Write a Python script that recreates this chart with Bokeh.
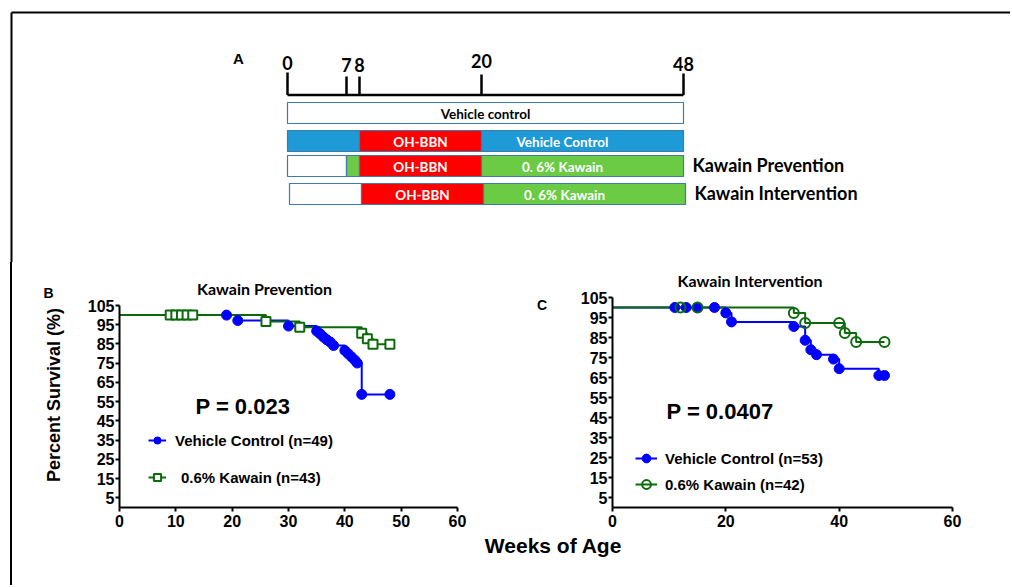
import numpy as np
from bokeh.plotting import figure
from bokeh.models import (Range1d, FixedTicker, Label, Legend, LegendItem, ColumnDataSource,
                          LinearAxis, Div)
from bokeh.layouts import column, row
from bokeh.embed import file_html
from bokeh.resources import INLINE
from bokeh.core.properties import value

# ---------------- data ----------------
# Panel A: treatment schedule (weeks of age)
timeline_weeks = [0, 7, 8, 20, 48]
seg_row = [0, 1, 1, 1, 2, 2, 2, 2, 3, 3, 3]
seg_start = [0, 0, 8, 20, 0, 7, 8, 20, 0, 8, 20]
seg_end = [48, 8, 20, 48, 7, 8, 20, 48, 8, 20, 48]
seg_kind = ["none", "vehicle", "bbn", "vehicle", "none", "kawain", "bbn", "kawain",
            "none", "bbn", "kawain"]
seg_text = ["Vehicle control", "", "OH-BBN", "Vehicle Control", "", "", "OH-BBN",
            "0. 6% Kawain", "", "OH-BBN", "0. 6% Kawain"]
row_labels = ["", "", "Kawain Prevention", "Kawain Intervention"]

# Panel B: Kawain Prevention (Kaplan-Meier, percent survival vs weeks of age)
b_veh_t = [0, 19, 21, 30, 35, 35.6, 36.2, 36.8, 37.4, 38, 40, 40.6, 41.2, 41.8, 42.2, 43, 48]
b_veh_s = [100, 100, 97.2, 94.3, 91.7, 90.3, 88.6, 87.2, 86.0, 84.2, 81.6, 79.9, 78.2,
           76.5, 75.1, 58.8, 58.8]
b_kaw_t = [0, 9, 10, 11, 12, 13, 26, 32, 43, 44, 45, 48]
b_kaw_s = [100, 100, 100, 100, 100, 100, 96.7, 93.7, 90.6, 87.7, 84.8, 84.8]

# Panel C: Kawain Intervention
c_veh_t = [0, 11, 13, 15, 18, 20, 21, 32, 34, 35, 36, 39, 40, 47, 48]
c_veh_s = [100, 100, 100, 100, 100, 97.3, 92.8, 90.5, 83.6, 78.9, 76.4, 74.2, 69.4, 66.0, 66.0]
c_kaw_t = [0, 12, 15, 32, 34, 40, 41, 43, 48]
c_kaw_s = [100, 100, 100, 97.3, 92.3, 92.3, 87.3, 82.8, 82.8]

y_ticks = list(range(5, 106, 10))
b_x_ticks = [0, 10, 20, 30, 40, 50, 60]
c_x_ticks = [0, 20, 40, 60]

# ---------------- style / layout ----------------
ARIAL = "Liberation Sans"
CALIBRI = "Lato"
BLUE = "#0000FF"
GREEN = "#0B6A0B"
KIND_FILL = {"none": "#FFFFFF", "vehicle": "#1E9AD6", "bbn": "#FF0000", "kawain": "#6BCB45"}
BOX_LINE = "#3F79AE"

W_TOTAL = 1010
H_TOP = 262
H_BOT = 323
EDGE_W = 12
SPLIT = 470

SCHEM_X = [287, 346, 359, 481, 683]   # schematic is not to scale
ROW_TOP = [102, 130, 155, 183]
ROW_DX = [0, 0, 0, 2]
ROW_H = 21


def wx(w):
    return np.interp(w, timeline_weeks, SCHEM_X)


# ---------------- panel A ----------------
pA = figure(width=W_TOTAL, height=H_TOP, x_range=Range1d(0, W_TOTAL), y_range=Range1d(H_TOP, 0),
            output_backend="svg", toolbar_location=None, x_axis_type=None, y_axis_type=None,
            min_border=0)
pA.grid.visible = False
pA.outline_line_color = None

pA.segment(x0=[11, 11], y0=[12, 12], x1=[W_TOTAL, 11], y1=[12, H_TOP], line_color="black",
           line_width=2)

dx = np.array([ROW_DX[r] for r in seg_row], float)
left = wx(np.array(seg_start, float)) + dx
right = wx(np.array(seg_end, float)) + dx
top = np.array([ROW_TOP[r] for r in seg_row], float)
bot = top + ROW_H
src = ColumnDataSource(dict(left=left, right=right, top=top, bottom=bot,
                            fill=[KIND_FILL[k] for k in seg_kind]))
pA.quad(left="left", right="right", top="top", bottom="bottom", fill_color="fill",
        line_color=BOX_LINE, line_width=1.2, source=src)

tx, ty, tt, tc = [], [], [], []
for i, t in enumerate(seg_text):
    if not t:
        continue
    cxp = (left[i] + right[i]) / 2
    if seg_start[i] == 20:
        cxp -= 20
    tx.append(cxp)
    ty.append(top[i] + ROW_H / 2 + 0.5)
    tt.append(t)
    tc.append("black" if seg_kind[i] == "none" else "white")
pA.text(x=tx, y=ty, text=tt, text_color=tc, text_font=value(CALIBRI), text_font_style="bold",
        text_font_size="13.5px", text_align="center", text_baseline="middle")

lx, ly, lt = [], [], []
for r, lab in enumerate(row_labels):
    if lab:
        lx.append(692 + ROW_DX[r])
        ly.append(ROW_TOP[r] + ROW_H / 2 - 1.5)
        lt.append(lab)
pA.text(x=lx, y=ly, text=lt, text_font=value(CALIBRI), text_font_style="bold",
        text_font_size="18px", text_align="left", text_baseline="middle", text_color="black")

tl_y = 94.5
tick_top = [72, 76, 76, 74, 73]
lab_y = [62, 64, 64, 60, 63]
wpos = wx(np.array(timeline_weeks, float))
pA.segment(x0=[wx(0)], y0=[tl_y], x1=[wx(48)], y1=[tl_y], line_color="black", line_width=2.5)
pA.segment(x0=wpos, y0=tick_top, x1=wpos, y1=[tl_y] * 5, line_color="black", line_width=2.5)
pA.text(x=wpos, y=lab_y, text=[str(w) for w in timeline_weeks],
        text_font=value(CALIBRI), text_font_style="bold", text_font_size="18px",
        text_align="center", text_baseline="middle", text_color="black")
pA.text(x=[238], y=[58], text=["A"], text_font=value(ARIAL), text_font_style="bold",
        text_font_size="15px", text_align="center", text_baseline="middle", text_color="black")

# continuation of the outer frame's left edge below panel A
edge = Div(text="", width=EDGE_W, height=H_BOT, margin=0,
           styles={"box-sizing": "border-box", "border-right": "2px solid black"})


# ---------------- KM panels ----------------
class Panel:
    """Figure whose frame is its whole canvas; axes are pinned at (0, 0)."""

    def __init__(self, cx0, cx1, fl, fr, ft, fb, xticks):
        self.sx = (fr - fl) / 60.0
        self.sy = (fb - ft) / 105.0
        self.fl, self.fb = fl, fb
        self.cx0, self.cx1 = cx0, cx1
        xr = Range1d((cx0 - fl) / self.sx, (cx1 - fl) / self.sx)
        yr = Range1d((fb - (H_TOP + H_BOT)) / self.sy, (fb - H_TOP) / self.sy)
        p = figure(width=cx1 - cx0, height=H_BOT, x_range=xr, y_range=yr,
                   output_backend="svg", toolbar_location=None, x_axis_type=None,
                   y_axis_type=None, min_border=0)
        p.grid.visible = False
        p.outline_line_color = None
        xa = LinearAxis(fixed_location=0, bounds=(0, 60), ticker=FixedTicker(ticks=xticks))
        ya = LinearAxis(fixed_location=0, bounds=(0, 105), ticker=FixedTicker(ticks=y_ticks))
        for ax in (xa, ya):
            ax.axis_line_width = 2
            ax.axis_line_color = "black"
            ax.major_tick_line_width = 2
            ax.major_tick_out = 4
            ax.major_tick_in = 0
            ax.minor_tick_out = 0
            ax.minor_tick_in = 0
            ax.major_label_text_font = ARIAL
            ax.major_label_text_font_style = "bold"
            ax.major_label_text_font_size = "16px"
            ax.major_label_text_color = "black"
        xa.major_label_standoff = 3
        ya.major_label_standoff = 1
        p.add_layout(xa, "below")
        p.add_layout(ya, "left")
        self.p = p

    def x(self, px):
        return (px - self.fl) / self.sx

    def y(self, py):
        return (self.fb - py) / self.sy

    def label(self, px, py, text, font=ARIAL, size="16px", align="center", angle=0.0):
        self.p.add_layout(Label(x=self.x(px), y=self.y(py), text=text, angle=angle,
                                text_font=font, text_font_style="bold", text_font_size=size,
                                text_align=align, text_baseline="middle", text_color="black"))

    def legend(self, label, rends, gx, gy, gw, standoff):
        h = 22
        lg = Legend(items=[LegendItem(label=label, renderers=rends)],
                    location=(gx - self.cx0, (H_TOP + H_BOT) - gy - h / 2),
                    glyph_width=gw, glyph_height=h, label_standoff=standoff, padding=0,
                    margin=0, border_line_alpha=0, background_fill_alpha=0,
                    label_text_font=ARIAL, label_text_font_style="bold",
                    label_text_font_size="15px", label_text_color="black", label_height=h)
        self.p.add_layout(lg)


# Panel B
B = Panel(EDGE_W, SPLIT, 119, 457, 305, 507, b_x_ticks)
pB = B.p
lb1 = pB.step(b_veh_t, b_veh_s, mode="after", line_color=BLUE, line_width=2)
lb2 = pB.step(b_kaw_t, b_kaw_s, mode="after", line_color=GREEN, line_width=2)
mb1 = pB.scatter(b_veh_t[1:], b_veh_s[1:], marker="circle", size=10, fill_color=BLUE,
                 line_color=BLUE)
mb2 = pB.scatter(b_kaw_t[1:], b_kaw_s[1:], marker="square", size=9, fill_color="white",
                 line_color=GREEN, line_width=2)
B.legend("Vehicle Control (n=49)", [lb1, mb1], 148, 440, 18, 9)
B.legend("0.6% Kawain (n=43)", [lb2, mb2], 148, 477, 18, 15)
B.label(48, 292, "B", size="14px")
B.label(53, 392, "Percent Survival  (%)", size="18px", angle=np.pi / 2)
B.label(264, 288, "Kawain Prevention", font=CALIBRI, size="16px")
B.label(195, 406, "P = 0.023", size="22px", align="left")

# Panel C
C = Panel(SPLIT, W_TOTAL, 612, 952, 297, 507, c_x_ticks)
pC = C.p
lc1 = pC.step(c_veh_t, c_veh_s, mode="after", line_color=BLUE, line_width=2)
lc2 = pC.step(c_kaw_t, c_kaw_s, mode="after", line_color=GREEN, line_width=2)
mc1 = pC.scatter(c_veh_t[1:], c_veh_s[1:], marker="circle", size=10, fill_color=BLUE,
                 line_color=BLUE)
mc2 = pC.scatter(c_kaw_t[1:], c_kaw_s[1:], marker="circle", size=10, fill_alpha=0,
                 line_color=GREEN, line_width=2)
C.legend("Vehicle Control (n=53)", [lc1, mc1], 635, 458, 22, 8)
C.legend("0.6% Kawain (n=42)", [lc2, mc2], 635, 484, 22, 8)
C.label(541.5, 304, "C", size="14px")
C.label(749.5, 280, "Kawain Intervention", font=CALIBRI, size="16px")
C.label(666, 410.5, "P = 0.0407", size="22px", align="left")
C.label(553, 545, "Weeks of Age", size="21px")

layout = column(pA, row(edge, pB, pC))
open("out.html", "w").write(file_html(layout, INLINE))
